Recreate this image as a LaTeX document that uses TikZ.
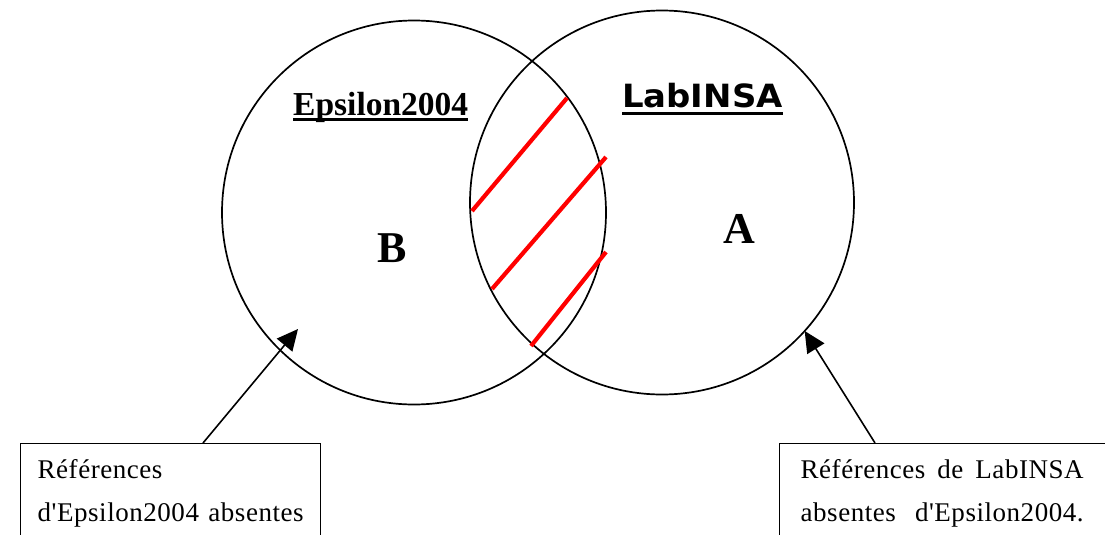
\documentclass[tikz,border=0pt]{standalone}
\usepackage{fontspec}
\setmainfont{Liberation Serif}[Ligatures=TeXOff]
\newfontfamily\notefont{Liberation Serif}[Ligatures=TeXOff, LetterSpace=2]
\newfontfamily\labfont{DejaVu Sans}
\usetikzlibrary{arrows.meta}
% thick underline drawn under a piece of text: #1 = depth of the rule's bottom
\newcommand\heavyline[2]{\setbox0\hbox{#2}\rlap{\rule[-#1]{\wd0}{3pt}}\box0}
\begin{document}
\begin{tikzpicture}[x=1pt,y=-1pt,
  venn/.style={circle, draw, line width=1.7pt, minimum size=384pt, inner sep=0pt, outer sep=0pt},
  hatch/.style={red, line width=4.2pt},
  callout/.style={draw, line width=1.3pt, anchor=north west, inner xsep=17pt, inner ysep=0pt,
    text height=35pt, text depth=140pt, align=left,
    font=\notefont\fontsize{27}{43}\selectfont},
  pointer/.style={line width=1.6pt, -{Triangle[length=21pt,width=20pt]}},
  title/.style={inner sep=0pt, anchor=base west},
  letter/.style={inner sep=0pt, anchor=base west, font=\fontsize{44}{44}\selectfont\bfseries}
]
\useasboundingbox (0,0) rectangle (1105,535);
\clip (0,0) rectangle (1105,535);

% the two sets
\node[venn] (circL) at (414,212.5) {};
\node[venn] (circR) at (662,202.5) {};

% hatching of the common part
\draw[hatch] (472,211) -- (567,98);
\draw[hatch] (492,289) -- (606,157);
\draw[hatch] (531,346) -- (606,252);

% set titles
\node[title, font=\fontsize{33.5}{33.5}\selectfont\bfseries] (tEps) at (293,115)
  {\heavyline{5.5pt}{Epsilon2004}};
\node[title, font=\fontsize{32}{32}\labfont\bfseries] (tLab) at (622,107)
  {\heavyline{7.5pt}{\scalebox{1.06}[1]{LabINSA}}};

% set letters
\node[letter] (lB) at (377,262) {B};
\node[letter] (lA) at (723,243) {A};

% explanation boxes
\node[callout, text width=266pt] (boxL) at (20,443)
  {Références\\ \makebox[266pt][l]{d'Epsilon2004\hfill absentes}};
\node[callout, inner xsep=21pt, text width=320pt] (boxR) at (779,443)
  {\makebox[283pt][l]{Références\hfill de\hfill LabINSA}\\
   \makebox[283pt][l]{absentes\hfill d'Epsilon2004.}};

% arrows from the boxes into the sets
\coordinate (tipL) at (298,329);
\draw[pointer] ([xshift=183pt]boxL.north west) -- (tipL);
\draw[pointer] ([xshift=96pt]boxR.north west) -- (circR.-42.5);
\end{tikzpicture}
\end{document}
